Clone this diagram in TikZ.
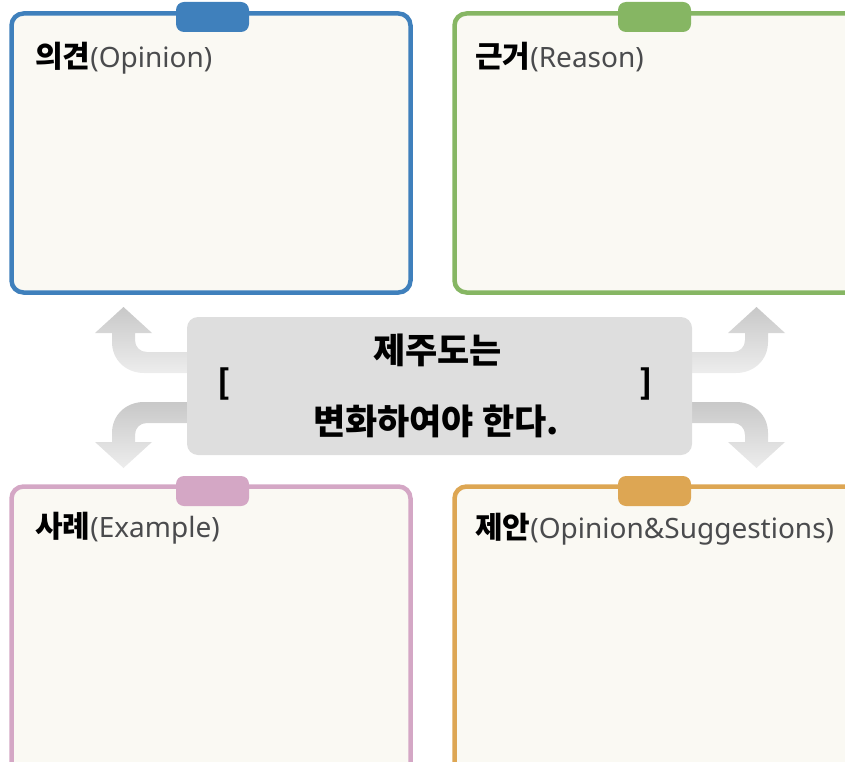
\documentclass[tikz,border=0pt]{standalone}
\usepackage{fontspec}
\setmainfont{Noto Sans}
\newfontfamily\kr{Noto Sans CJK KR}
\definecolor{cblue}{HTML}{3F80BC}
\definecolor{cgreen}{HTML}{86B663}
\definecolor{cpink}{HTML}{D4A7C5}
\definecolor{corange}{HTML}{DDA653}
\definecolor{boxfill}{HTML}{FAF9F3}
\definecolor{centerfill}{HTML}{DEDEDE}
\definecolor{labelgray}{HTML}{4A4B4D}
\definecolor{arrdark}{HTML}{C8C8C8}
\definecolor{arrlight}{HTML}{EDEDED}
\newcommand\sidearrowpath{%
  \path[shading=axis, left color=arrdark, right color=arrlight, shading angle=0]
    (200,352) -- (147,352) .. controls (140,352) and (135,347) .. (135,340)
    -- (135,333) -- (152,333) -- (123.5,307) -- (95,333) -- (112,333) -- (112,342)
    .. controls (112,360) and (126,373) .. (144,373) -- (200,373) -- cycle;}
\newcommand\latpart[1]{{\fontsize{28}{32}\selectfont\rmfamily\mdseries\color{labelgray}#1}}
\begin{document}
\begin{tikzpicture}[x=1pt,y=-1pt,
  panel/.style={draw, line width=4.5pt, fill=boxfill, rounded corners=12pt, inner sep=0, outer sep=0},
  tab/.style={rounded corners=8pt, minimum width=73pt, minimum height=30pt, inner sep=0, outer sep=0},
  lbl/.style={anchor=base west, inner sep=0, font=\fontsize{30}{34}\selectfont\kr\bfseries},
  centerbox/.style={fill=centerfill, rounded corners=11pt, minimum width=505pt, minimum height=138pt, inner sep=0},
  ctext/.style={anchor=base, inner sep=0, font=\fontsize{35}{40}\selectfont\kr\bfseries},
  brk/.style={anchor=base, inner sep=0, font=\fontsize{33}{38}\selectfont\kr\bfseries}]
\useasboundingbox (0,0) rectangle (845,762);
\clip (0,0) rectangle (845,762);
% panels
\node[panel, draw=cblue, minimum width=399pt, minimum height=279pt] (op) at (211,153) {};
\node[panel, draw=cgreen, minimum width=420pt, minimum height=279pt] (re) at (664.5,153) {};
\node[panel, draw=cpink, minimum width=399pt, minimum height=300pt] (ex) at (211,636.5) {};
\node[panel, draw=corange, minimum width=420pt, minimum height=300pt] (su) at (664.5,636.5) {};
% tabs
\node[tab, fill=cblue] (optab) at (212.5,17) {};
\node[tab, fill=cgreen] (retab) at (654.5,17) {};
\node[tab, fill=cpink] (extab) at (212.5,491) {};
\node[tab, fill=corange] (sutab) at (654.5,491) {};
% labels
\node[lbl] (opl) at (35,68) {의견\latpart{(Opinion)}};
\node[lbl] (rel) at (475,68) {근거\latpart{(Reason)}};
\node[lbl] (exl) at (35,537) {사례\latpart{(Example)}};
\node[lbl] (sul) at (475,538) {제안\latpart{(Opinion\&Suggestions)}};
% arrows
\begin{scope}
  \sidearrowpath
\end{scope}
\begin{scope}[shift={(0,775)}, yscale=-1]
  \sidearrowpath
\end{scope}
\begin{scope}[shift={(880,0)}, xscale=-1]
  \sidearrowpath
\end{scope}
\begin{scope}[shift={(880,775)}, xscale=-1, yscale=-1]
  \sidearrowpath
\end{scope}
% center box
\node[centerbox] (cb) at (439.5,386) {};
\node[ctext] (t1) at (437.5,363) {제주도는};
\node[ctext] (t2) at (436,434) {변화하여야 한다.};
\node[brk] (lb) at (224,394) {[};
\node[brk] (rb) at (646,394) {]};
\end{tikzpicture}
\end{document}
